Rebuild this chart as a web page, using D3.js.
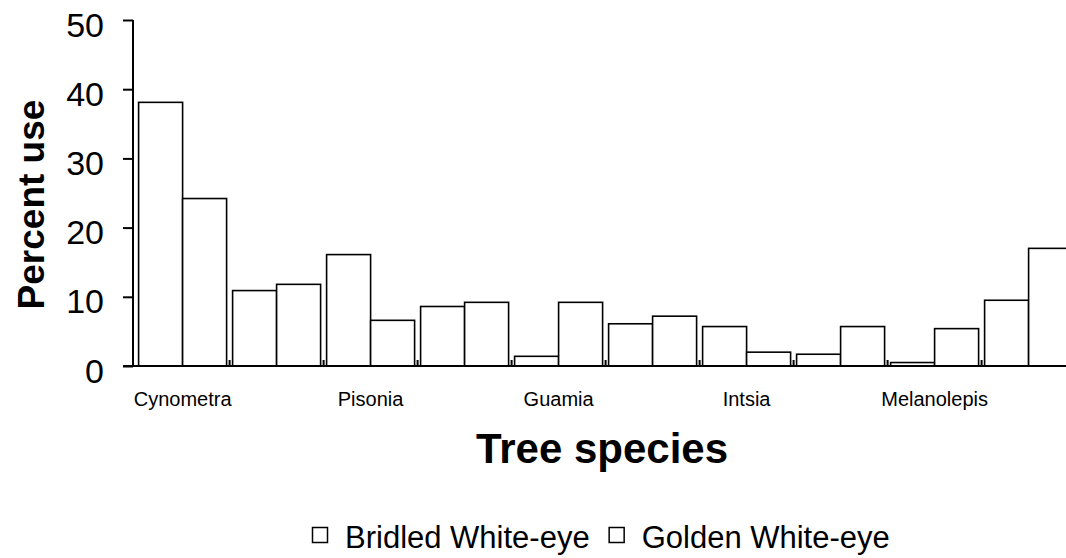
<!DOCTYPE html>
<html>
<head>
<meta charset="utf-8">
<script src="https://cdn.jsdelivr.net/npm/d3@7"></script>
<style>
  body { margin: 0; background: #fff; }
  svg { display: block; font-family: "Liberation Sans", Arial, sans-serif; }
</style>
</head>
<body>
<svg id="chart" width="1066" height="558"></svg>
<script>
// only every other species name is printed on the axis
const tickLabels = ["Cynometra", "", "Pisonia", "", "Guamia", "", "Intsia", "", "Melanolepis", ""]
const series = ["Bridled White-eye", "Golden White-eye"]
const bridled = [38.1, 10.9, 16.1, 8.6, 1.4, 6.1, 5.7, 1.7, 0.5, 9.5]
const golden = [24.2, 11.8, 6.6, 9.2, 9.2, 7.2, 2.0, 5.7, 5.4, 17.0]
const yTicks = [0, 10, 20, 30, 40, 50]

const svg = d3.select("#chart")
const x0 = 135.6, step = 94, yAxisX = 133

const x = d3.scaleBand()
  .domain(d3.range(tickLabels.length))
  .range([x0, x0 + step * tickLabels.length])
  .paddingInner(6 / step)
  .paddingOuter(3 / step)

const xs = d3.scaleBand().domain(series).range([0, x.bandwidth()])

const y = d3.scaleLinear().domain([0, 50]).range([366, 20])

const rows = d3.range(tickLabels.length).map(i => ({ i, vals: [bridled[i], golden[i]] }))

// bars
svg.append("g")
  .selectAll("g")
  .data(rows)
  .enter()
  .append("g")
  .attr("transform", d => "translate(" + x(d.i) + ",0)")
  .selectAll("rect")
  .data(d => d.vals.map((v, k) => ({ key: series[k], v })))
  .enter()
  .append("rect")
  .attr("x", d => xs(d.key))
  .attr("y", d => y(d.v))
  .attr("width", xs.bandwidth())
  .attr("height", d => y(0) - y(d.v))
  .attr("fill", "#fff")
  .attr("stroke", "#000")
  .attr("stroke-width", 1.6)

// small category boundary marks
svg.append("g")
  .selectAll("line")
  .data(d3.range(1, tickLabels.length))
  .enter()
  .append("line")
  .attr("x1", i => x0 + step * i)
  .attr("x2", i => x0 + step * i)
  .attr("y1", y(0))
  .attr("y2", y(0) - 6)
  .attr("stroke", "#000")
  .attr("stroke-width", 2)

// y axis
const yAxis = svg.append("g")
  .attr("transform", "translate(" + yAxisX + ",0)")
  .call(d3.axisLeft(y).tickValues(yTicks).tickSize(10).tickPadding(19))
yAxis.select(".domain").attr("stroke-width", 2).attr("d", "M0," + y(50) + "V" + y(0))
yAxis.selectAll(".tick line").attr("stroke-width", 2)
yAxis.selectAll(".tick text")
  .attr("font-size", 34)
  .attr("font-family", "Liberation Sans, Arial, sans-serif")
  .attr("fill", "#000")
  .attr("dy", "16px")

// x axis line
svg.append("line")
  .attr("x1", 123)
  .attr("x2", 1066)
  .attr("y1", y(0))
  .attr("y2", y(0))
  .attr("stroke", "#000")
  .attr("stroke-width", 2)

// category labels
svg.append("g")
  .selectAll("text")
  .data(rows.filter(d => tickLabels[d.i]))
  .enter()
  .append("text")
  .attr("x", d => x(d.i) + x.bandwidth() / 2)
  .attr("y", 406)
  .attr("text-anchor", "middle")
  .attr("font-size", 20)
  .text(d => tickLabels[d.i])

// axis titles
svg.append("text")
  .attr("transform", "translate(44,204.5) rotate(-90)")
  .attr("text-anchor", "middle")
  .attr("font-size", 37)
  .attr("font-weight", "bold")
  .text("Percent use")

svg.append("text")
  .attr("x", 602)
  .attr("y", 463)
  .attr("text-anchor", "middle")
  .attr("font-size", 42)
  .attr("font-weight", "bold")
  .text("Tree species")

// legend
const legend = svg.append("g")
let lx = 312
series.forEach(s => {
  legend.append("rect")
    .attr("x", lx + 0.5)
    .attr("y", 527.5)
    .attr("width", 15)
    .attr("height", 15)
    .attr("fill", "#fff")
    .attr("stroke", "#000")
    .attr("stroke-width", 1.5)
  const t = legend.append("text")
    .attr("x", lx + 33)
    .attr("y", 548)
    .attr("font-size", 31)
    .text(s)
  lx += 33 + t.node().getComputedTextLength() + 19
})
</script>
</body>
</html>
